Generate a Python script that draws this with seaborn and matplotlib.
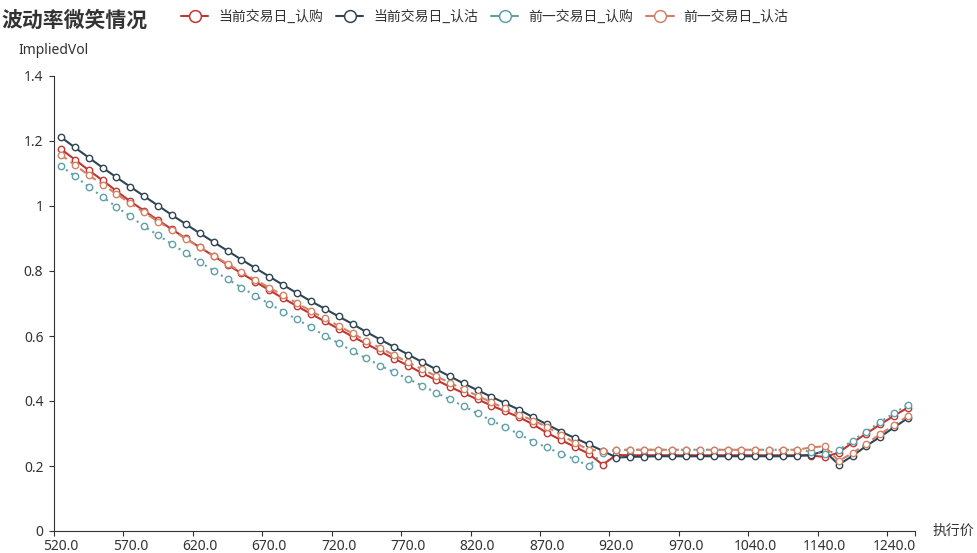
import numpy as np
import pandas as pd
import matplotlib
matplotlib.use("Agg")
import matplotlib.pyplot as plt
from matplotlib.lines import Line2D
import seaborn as sns

# ---------------- data ----------------
strikes = [520, 530, 540, 550, 560, 570, 580, 590, 600, 610,
           620, 630, 640, 650, 660, 670, 680, 690, 700, 710,
           720, 730, 740, 750, 760, 770, 780, 790, 800, 810,
           820, 830, 840, 850, 860, 870, 880, 890, 900, 910,
           920, 930, 940, 950, 960, 970, 980, 990, 1000, 1020,
           1040, 1060, 1080, 1100, 1120, 1140, 1160, 1180, 1200, 1220,
           1240, 1260]

call_cur = [1.175, 1.143, 1.110, 1.079, 1.046, 1.014, 0.985, 0.956, 0.928, 0.900,
            0.873, 0.846, 0.819, 0.793, 0.767, 0.741, 0.716, 0.692, 0.668, 0.645,
            0.622, 0.598, 0.576, 0.553, 0.530, 0.509, 0.486, 0.465, 0.444, 0.424,
            0.405, 0.386, 0.368, 0.350, 0.328, 0.302, 0.280, 0.259, 0.238, 0.204,
            0.234, 0.233, 0.233, 0.233, 0.233, 0.233, 0.233, 0.233, 0.233, 0.233,
            0.233, 0.233, 0.233, 0.233, 0.232, 0.228, 0.241, 0.272, 0.300, 0.328,
            0.355, 0.380]

put_cur = [1.212, 1.180, 1.149, 1.118, 1.088, 1.059, 1.030, 1.001, 0.972, 0.944,
           0.916, 0.889, 0.862, 0.835, 0.809, 0.783, 0.757, 0.732, 0.707, 0.684,
           0.660, 0.637, 0.612, 0.589, 0.566, 0.543, 0.520, 0.498, 0.476, 0.454,
           0.433, 0.413, 0.393, 0.373, 0.350, 0.328, 0.306, 0.286, 0.267, 0.247,
           0.226, 0.228, 0.229, 0.230, 0.230, 0.230, 0.230, 0.230, 0.230, 0.230,
           0.230, 0.230, 0.230, 0.231, 0.234, 0.246, 0.204, 0.231, 0.262, 0.290,
           0.319, 0.348]

call_prev = [1.123, 1.092, 1.059, 1.028, 0.997, 0.968, 0.937, 0.910, 0.882, 0.855,
             0.828, 0.801, 0.775, 0.749, 0.724, 0.699, 0.675, 0.651, 0.627, 0.601,
             0.578, 0.553, 0.531, 0.509, 0.488, 0.468, 0.447, 0.426, 0.405, 0.384,
             0.362, 0.340, 0.319, 0.298, 0.275, 0.257, 0.238, 0.221, 0.200, 0.241,
             0.249, 0.250, 0.250, 0.250, 0.250, 0.250, 0.250, 0.250, 0.250, 0.250,
             0.250, 0.250, 0.250, 0.250, 0.244, 0.238, 0.249, 0.278, 0.306, 0.336,
             0.363, 0.389]

put_prev = [1.158, 1.126, 1.095, 1.066, 1.037, 1.008, 0.980, 0.952, 0.925, 0.899,
            0.873, 0.847, 0.822, 0.797, 0.773, 0.749, 0.725, 0.701, 0.677, 0.654,
            0.631, 0.608, 0.585, 0.563, 0.541, 0.519, 0.498, 0.477, 0.456, 0.436,
            0.416, 0.396, 0.377, 0.358, 0.340, 0.320, 0.296, 0.272, 0.250, 0.247,
            0.249, 0.250, 0.250, 0.250, 0.250, 0.250, 0.250, 0.250, 0.250, 0.250,
            0.250, 0.250, 0.250, 0.250, 0.257, 0.261, 0.215, 0.240, 0.269, 0.298,
            0.326, 0.354]

series_names = ["当前交易日_认购", "当前交易日_认沽", "前一交易日_认购", "前一交易日_认沽"]
series_values = [call_cur, put_cur, call_prev, put_prev]
series_colors = ["#c23531", "#2f4554", "#61a0a8", "#d48265"]
series_styles = ["-", "-", (0, (1, 2)), (0, (3.5, 2.2))]

title = "波动率微笑情况"
y_name = "ImpliedVol"
x_name = "执行价"
y_ticks = [0, 0.2, 0.4, 0.6, 0.8, 1.0, 1.2, 1.4]
y_ticklabels = ["0", "0.2", "0.4", "0.6", "0.8", "1", "1.2", "1.4"]

# ---------------- style ----------------
sns.set_theme(style="ticks")
plt.rcParams["font.family"] = ["Noto Sans", "Noto Sans CJK SC", "DejaVu Sans"]
plt.rcParams["axes.unicode_minus"] = False

W, H = 977, 553
fig = plt.figure(figsize=(W / 100, H / 100), dpi=100)
ax_l, ax_r, ax_t, ax_b = 54, 915, 76, 531
ax = fig.add_axes([ax_l / W, 1 - ax_b / H, (ax_r - ax_l) / W, (ax_b - ax_t) / H])

pos = np.arange(len(strikes))
frames = []
for name, vals in zip(series_names, series_values):
    frames.append(pd.DataFrame({"pos": pos, "vol": vals, "series": name}))
df = pd.concat(frames, ignore_index=True)

for i, (name, color, ls) in enumerate(zip(series_names, series_colors, series_styles)):
    sub = df[df["series"] == name]
    sns.lineplot(data=sub, x="pos", y="vol", ax=ax, color=color, linestyle=ls,
                 linewidth=1.5, marker="o", markersize=4.6,
                 markerfacecolor="white", markeredgecolor=color,
                 markeredgewidth=1.0, sort=False, zorder=3 + i, legend=False)

ax.set_xlim(-0.5, len(strikes) - 0.5)
ax.set_ylim(0, 1.4)
ax.set_xlabel("")
ax.set_ylabel("")

# axes styling
for s in ["top", "right"]:
    ax.spines[s].set_visible(False)
for s in ["left", "bottom"]:
    ax.spines[s].set_color("#333333")
    ax.spines[s].set_linewidth(0.8)

ax.set_yticks(y_ticks)
ax.set_yticklabels(y_ticklabels)
ax.tick_params(axis="y", direction="out", length=3.6, width=0.8, color="#333333",
               labelsize=10, labelcolor="#333333", pad=4)

label_pos = pos[::5]
ax.set_xticks(label_pos)
ax.set_xticklabels([f"{strikes[p]:.1f}" for p in label_pos])
ax.tick_params(axis="x", which="major", length=0, labelsize=10,
               labelcolor="#333333", pad=5.5)
ax.set_xticks(list(np.arange(-0.5, len(strikes) - 1, 5)) + [len(strikes) - 0.5], minor=True)
ax.tick_params(axis="x", which="minor", direction="out", length=3.6, width=0.8,
               color="#333333")
ax.grid(False)

# texts
fig.text(1 / W, 1 - 20 / H, title, fontsize=15, fontweight="bold", color="#333333",
         ha="left", va="center", family=["Noto Sans CJK SC", "DejaVu Sans"])
fig.text(ax_l / W, 1 - 50 / H, y_name, fontsize=10, color="#333333",
         ha="center", va="center")
fig.text(933 / W, 1 - ax_b / H, x_name, fontsize=10, color="#333333",
         ha="left", va="center", family=["Noto Sans CJK SC", "DejaVu Sans"])

# legend
handles = [Line2D([0], [0], color=c, linewidth=1.5, marker="o", markersize=8.5,
                  markerfacecolor="white", markeredgecolor=c, markeredgewidth=1.1)
           for c in series_colors]
leg = fig.legend(handles, series_names, loc="center left",
                 bbox_to_anchor=(181 / W, 1 - 17 / H), ncol=4, frameon=False,
                 handlelength=1.95, handletextpad=0.72, columnspacing=0.95,
                 borderpad=0, borderaxespad=0, labelcolor="#333333",
                 prop={"family": ["Noto Sans CJK SC", "DejaVu Sans"], "size": 10})

fig.savefig("out.png", dpi=100)
